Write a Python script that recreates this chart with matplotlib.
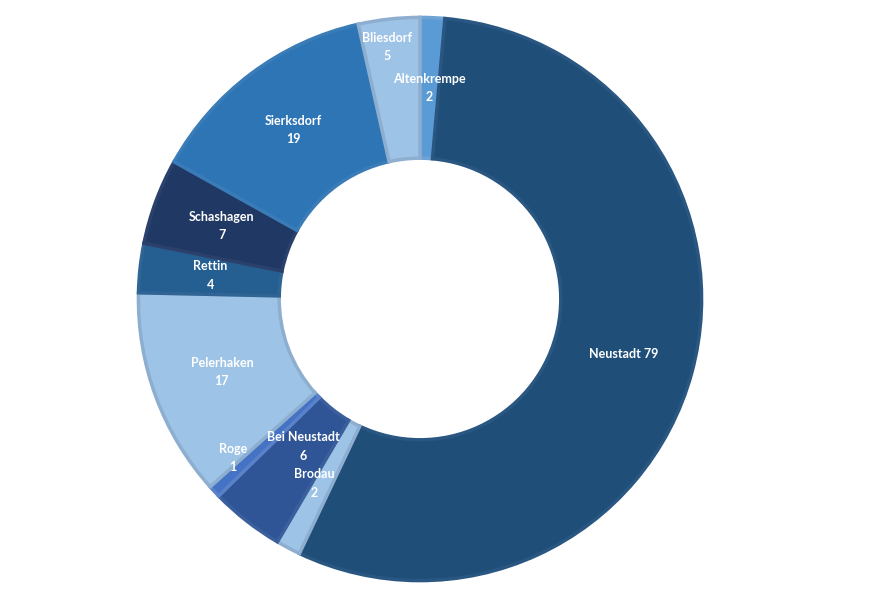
import matplotlib
matplotlib.use("Agg")
import matplotlib.pyplot as plt
import numpy as np

# slices in clockwise order, starting at 12 o'clock
names = ["Altenkrempe", "Neustadt", "Brodau", "Bei Neustadt", "Roge",
         "Pelerhaken", "Rettin", "Schashagen", "Sierksdorf", "Bliesdorf"]
counts = [2, 79, 2, 6, 1, 17, 4, 7, 19, 5]

fills = ["#5b9bd5", "#1f4e79", "#9dc3e6", "#2f5597", "#4472c4",
         "#9dc3e6", "#255e91", "#203864", "#2e75b6", "#9dc3e6"]
edges = ["#6fa3d6", "#2a5782", "#8eaed0", "#3a5f9c", "#5a82c8",
         "#8eaed0", "#2f6495", "#2b416b", "#3a7cb8", "#8eaed0"]

fig = plt.figure(figsize=(8.86, 5.92), dpi=100)
ax = fig.add_axes([137 / 886, 10 / 592, 566 / 886, 566 / 592])

wedges, _ = ax.pie(counts, startangle=90, counterclock=False, colors=fills,
                   radius=1.0, wedgeprops=dict(width=0.5))
for w, ec in zip(wedges, edges):
    w.set_edgecolor(ec)
    w.set_linewidth(2.5)

# nudges for the crowded labels (axes units, radius = 1)
nudge = {"Bliesdorf": (-0.035, 0.15), "Bei Neustadt": (0.048, 0.067),
         "Roge": (-0.117, -0.053), "Brodau": (-0.025, 0.007)}

total = sum(counts)
cum = np.cumsum([0] + counts)
for i, name in enumerate(names):
    mid = 90 - (cum[i] + counts[i] / 2) / total * 360
    r = 0.75
    x = r * np.cos(np.radians(mid))
    y = r * np.sin(np.radians(mid))
    dx, dy = nudge.get(name, (0, 0))
    if name == "Neustadt":
        txt = f"{name} {counts[i]}"
    else:
        txt = f"{name}\n{counts[i]}"
    ax.text(x + dx, y + dy, txt, ha="center", va="center", color="white",
            fontsize=9, fontweight="bold", family="Lato", linespacing=1.65)

ax.set_xlim(-1.005, 1.005)
ax.set_ylim(-1.005, 1.005)
ax.set_aspect("equal")
ax.axis("off")

fig.savefig("out.png", dpi=100, facecolor="white")
